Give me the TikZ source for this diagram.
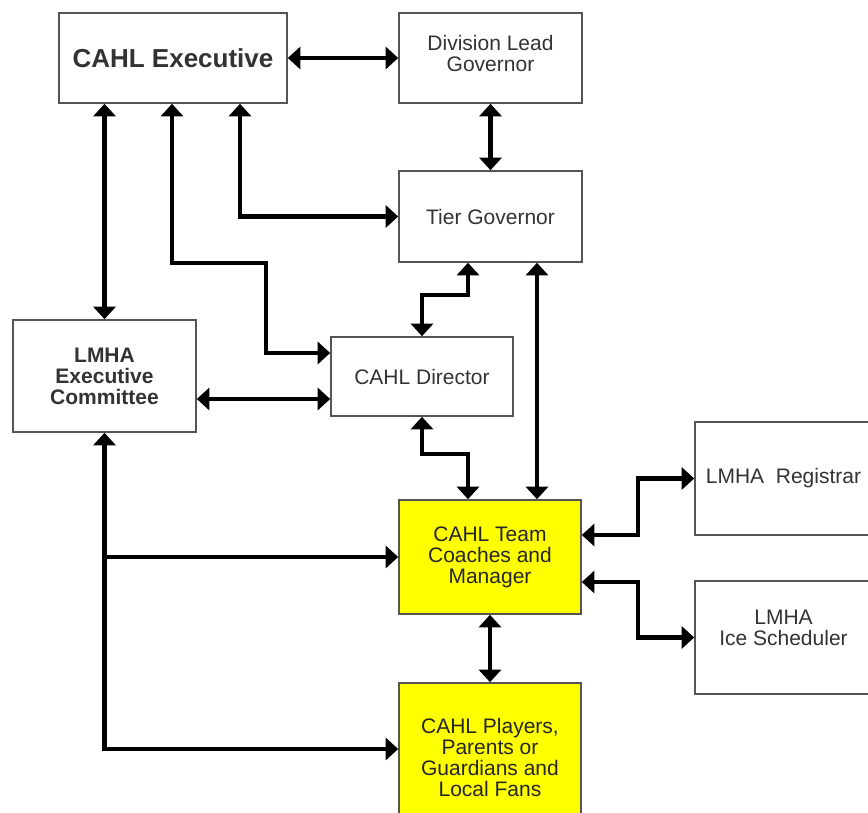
\documentclass[tikz,border=0pt]{standalone}
\usepackage{fontspec}
\setmainfont{Liberation Sans}
\usetikzlibrary{arrows.meta}
\definecolor{boxline}{HTML}{555555}
\definecolor{txtcol}{HTML}{333333}
\definecolor{hiyellow}{HTML}{FFFF00}
\tikzset{
  box/.style={draw=boxline, line width=1.6pt, fill=white, text=txtcol, align=center,
    inner sep=0pt, font=\fontsize{21}{21}\selectfont},
  yellowbox/.style={box, fill=hiyellow, text=black!85},
  lbl/.style={text=txtcol, align=center, inner sep=0pt, font=\fontsize{21}{21}\selectfont},
  tip/.tip={Triangle[width=22pt,length=12.5pt]},
  biarr/.style={tip-tip, line width=4.5pt, draw=black},
  onearr/.style={-tip, line width=4.5pt, draw=black}
}
\begin{document}
\begin{tikzpicture}[x=1pt,y=-1pt]
\useasboundingbox (0,0) rectangle (868,813);
\clip (0,0) rectangle (868,813);
\fill[white] (0,0) rectangle (868,813);

% boxes
\node[box, minimum width=228pt, minimum height=90pt, font=\bfseries\fontsize{26}{28}\selectfont] (exec) at (173,58) {CAHL Executive};
\node[box, minimum width=183pt, minimum height=90pt,
  label={[lbl, yshift=4.5pt]center:{Division Lead\\Governor}}] (div) at (490.5,58) {};
\node[box, minimum width=183pt, minimum height=91pt] (tier) at (490.5,216.5) {Tier Governor};
\node[box, minimum width=183pt, minimum height=112pt, font=\bfseries\fontsize{21}{21}\selectfont] (lmha) at (104.5,376) {LMHA\\Executive\\Committee};
\node[box, minimum width=182pt, minimum height=79pt] (dir) at (422,376.5) {CAHL Director};
\node[yellowbox, minimum width=182pt, minimum height=114pt] (team) at (490,557) {CAHL Team\\Coaches and\\Manager};
\node[yellowbox, minimum width=182pt, minimum height=148pt] (play) at (490,757) {CAHL Players,\\Parents or\\Guardians and\\Local Fans};
\node[box, minimum width=177pt, minimum height=113pt] (reg) at (783.5,478.5) {LMHA\ \ Registrar};
\node[box, minimum width=177pt, minimum height=113pt,
  label={[lbl, yshift=10pt]center:{LMHA\\Ice Scheduler}}] (ice) at (783.5,637.5) {};

% bend points
\coordinate (a1) at (240,216.5);
\coordinate (k1) at (172,263);
\coordinate (k2) at (266,263);
\coordinate (k3) at (266,353);
\coordinate (t1) at (468,295);
\coordinate (t2) at (422,295);
\coordinate (l1) at (196,399);
\coordinate (p1) at (537,262);
\coordinate (d1) at (422,454);
\coordinate (d2) at (468,454);
\coordinate (j2) at (104.5,749);
\coordinate (r1) at (638,535);
\coordinate (r2) at (638,478.5);
\coordinate (i1) at (638,582);
\coordinate (i2) at (638,637.5);

% connectors
\draw[biarr] (exec.east) -- (div.west);
\draw[biarr] (div.south) -- (tier.north);
\draw[biarr] (exec.south -| a1) -- (a1) -- (tier.west);
\draw[biarr] (exec.south -| k1) -- (k1) -- (k2) -- (k3) -- (k3 -| dir.west);
\draw[biarr] (exec.south -| lmha.north) -- (lmha.north);
\draw[biarr] (tier.south -| t1) -- (t1) -- (t2) -- (dir.north);
\draw[biarr] (l1 -| lmha.east) -- (l1 -| dir.west);
\draw[biarr] (p1 |- tier.south) -- (p1 |- team.north);
\draw[biarr] (dir.south) -- (d1) -- (d2) -- (d2 |- team.north);
\draw[biarr] (lmha.south) -- (j2) -- (j2 -| play.west);
\draw[onearr] (lmha.south |- team.west) -- (team.west);
\draw[biarr] (team.south) -- (play.north);
\draw[biarr] (r1 -| team.east) -- (r1) -- (r2) -- (reg.west);
\draw[biarr] (i1 -| team.east) -- (i1) -- (i2) -- (ice.west);
\end{tikzpicture}
\end{document}
